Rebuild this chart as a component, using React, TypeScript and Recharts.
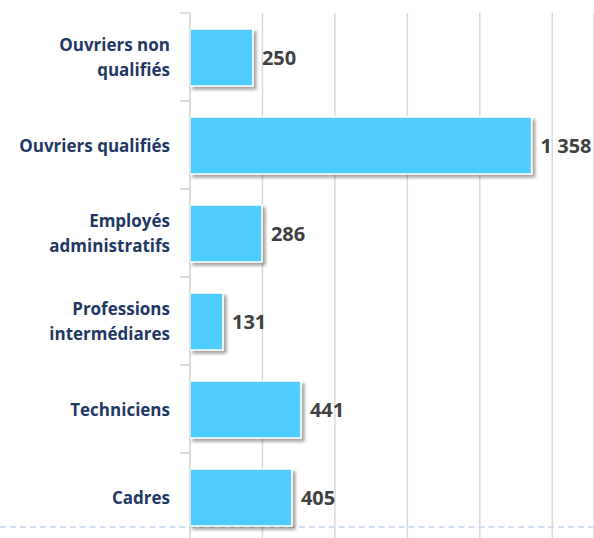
import { BarChart, Bar, XAxis, YAxis, CartesianGrid, LabelList } from "recharts";

const categories = [
  "Ouvriers non\nqualifiés",
  "Ouvriers qualifiés",
  "Employés\nadministratifs",
  "Professions\nintermédiares",
  "Techniciens",
  "Cadres",
];
const effectifs = [250, 1358, 286, 131, 441, 405];
const gridTicks = [0, 288, 576, 864, 1152, 1440];

const data = categories.map((name, i) => ({ name, value: effectifs[i] }));

const fmt = (v: number) => String(v).replace(/\B(?=(\d{3})+(?!\d))/g, " ");

const BAND = 88;
const AXIS_X = 190;

function CategoryTick(props: any) {
  const { y, payload } = props;
  const x = 170;
  const lines = String(payload.value).split("\n");
  const lh = 25;
  const start = -((lines.length - 1) * lh) / 2;
  return (
    <g>
      <line x1={AXIS_X - 10} x2={AXIS_X} y1={y - BAND / 2} y2={y - BAND / 2} stroke="#d9d9d9" strokeWidth={1.5} />
      <line x1={AXIS_X - 10} x2={AXIS_X} y1={y + BAND / 2} y2={y + BAND / 2} stroke="#d9d9d9" strokeWidth={1.5} />
      <text
        x={x}
        y={y}
        textAnchor="end"
        fill="#1f3864"
        fontFamily="'Open Sans', sans-serif"
        fontWeight={700}
        fontSize={17}
      >
        {lines.map((l, i) => (
          <tspan key={i} x={x} y={y + start + i * lh} dominantBaseline="central">
            {l}
          </tspan>
        ))}
      </text>
    </g>
  );
}

export default function App() {
  return (
    <div style={{ position: "absolute", left: 0, top: 0, width: 594, height: 538, overflow: "hidden", background: "#fff" }}>
      <div
        style={{
          position: "absolute",
          left: 0,
          right: 0,
          top: 526,
          borderTop: "2px dashed #d3dff0",
        }}
      />
      <BarChart
        width={594}
        height={541}
        data={data}
        layout="vertical"
        margin={{ top: 13, right: 0, bottom: 0, left: 0 }}
        barSize={57}
      >
        <defs>
          <filter id="shadow" x="-10%" y="-20%" width="130%" height="160%">
            <feDropShadow dx={3} dy={3} stdDeviation={1.5} floodColor="#000" floodOpacity={0.35} />
          </filter>
        </defs>
        <CartesianGrid horizontal={false} stroke="#d9d9d9" strokeWidth={1.5} />
        <XAxis type="number" domain={[0, 1606]} ticks={gridTicks} hide />
        <YAxis
          type="category"
          dataKey="name"
          width={AXIS_X}
          axisLine={{ stroke: "#d9d9d9", strokeWidth: 1.5 }}
          tickLine={false}
          tick={<CategoryTick />}
          interval={0}
        />
        <Bar
          dataKey="value"
          fill="#50cdff"
          stroke="#ffffff"
          strokeWidth={1.5}
          filter="url(#shadow)"
          isAnimationActive={false}
        >
          <LabelList
            dataKey="value"
            position="right"
            offset={9}
            formatter={(v: any) => fmt(Number(v))}
            fill="#404040"
            fontFamily="'Open Sans', sans-serif"
            fontWeight={700}
            fontSize={20}
          />
        </Bar>
      </BarChart>
    </div>
  );
}
